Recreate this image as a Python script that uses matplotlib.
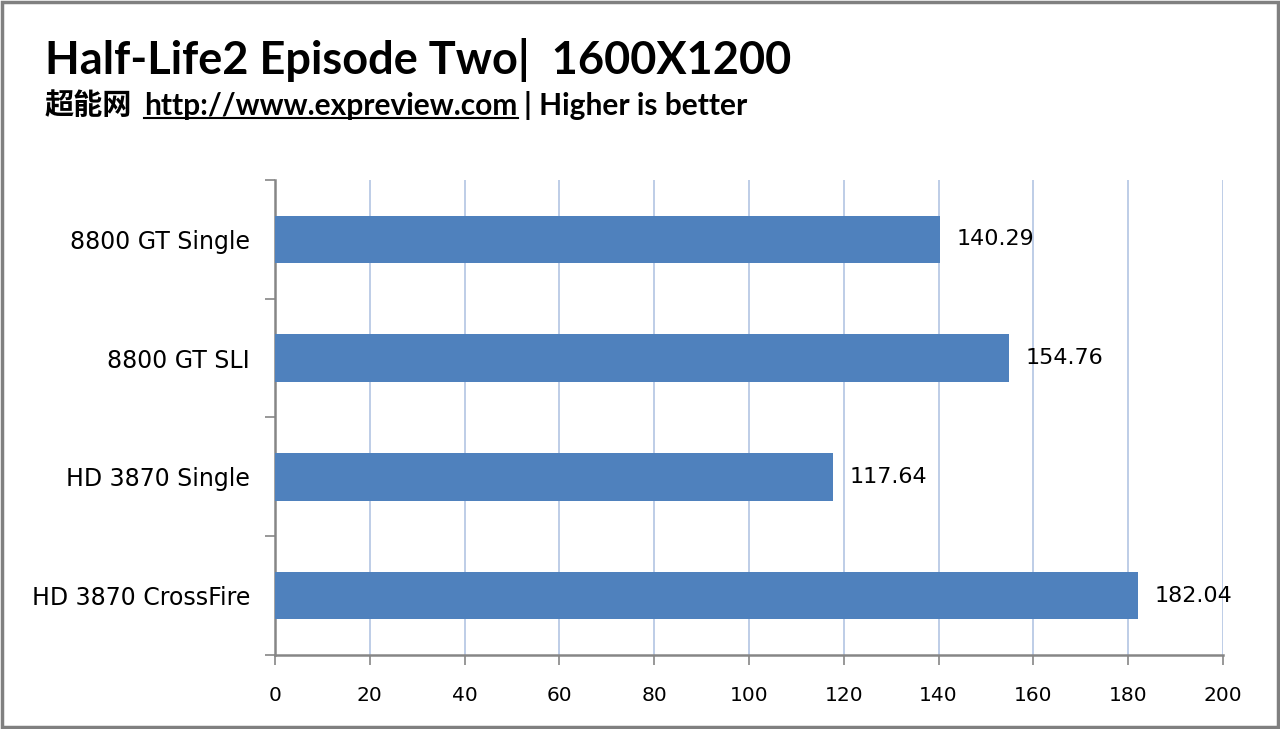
import matplotlib
matplotlib.use("Agg")
import matplotlib.pyplot as plt
from matplotlib.lines import Line2D
from matplotlib.patches import Rectangle
import numpy as np

# data
cards = ["8800 GT Single", "8800 GT SLI", "HD 3870 Single", "HD 3870 CrossFire"]
fps = [140.29, 154.76, 117.64, 182.04]
xticks = [0, 20, 40, 60, 80, 100, 120, 140, 160, 180, 200]

title = "Half-Life2 Episode Two|  1600X1200"
site = "超能网"
url = "http://www.expreview.com"
note = "| Higher is better"

bar_color = "#4f81bd"
grid_color = "#b9c9e5"
axis_color = "#868686"

fig = plt.figure(figsize=(12.8, 7.29), dpi=100)
ax = fig.add_axes([0.2148, 0.1015, 0.7407, 0.6516])

pos = np.arange(len(cards))
ax.barh(pos, fps, height=0.4, color=bar_color, zorder=3)
for p, v in zip(pos, fps):
    ax.annotate(f"{v:.2f}", (v, p), xytext=(12, 0), textcoords="offset points",
                va="center", ha="left", fontsize=16, family="DejaVu Sans")

ax.set_xlim(0, 200)
ax.set_ylim(len(cards) - 0.5, -0.5)
ax.set_xticks(xticks)
ax.set_xticklabels([str(t) for t in xticks], family="DejaVu Sans", fontsize=14.5)
ax.set_yticks(pos)
ax.set_yticklabels(cards, family="DejaVu Sans", fontsize=17)
ax.set_yticks(np.arange(len(cards) + 1) - 0.5, minor=True)
ax.tick_params(axis="y", which="major", length=0, pad=18)
ax.tick_params(axis="y", which="minor", length=7, width=1.2, color=axis_color, direction="out")
ax.tick_params(axis="x", length=7, width=1.2, color=axis_color, direction="out", pad=15)

ax.grid(axis="x", color=grid_color, linewidth=1.3, zorder=0)
for s in ["top", "right"]:
    ax.spines[s].set_visible(False)
for s in ["left", "bottom"]:
    ax.spines[s].set_color(axis_color)
    ax.spines[s].set_linewidth(1.8)
ax.spines["bottom"].set_zorder(4)

# titles
fig.text(45 / 1280, 1 - 74 / 729, title, fontsize=32.5, fontweight="bold",
         family="Lato", ha="left", va="baseline")
t1 = fig.text(45 / 1280, 1 - 114 / 729, site, fontsize=21, fontweight="bold",
              family=["Noto Sans CJK SC", "DejaVu Sans"], ha="left", va="baseline")
t2 = ax.annotate(url, xy=(1, 0), xycoords=t1, xytext=(12, 0), textcoords="offset pixels",
                 fontsize=21.5, fontweight="bold", family="Lato", ha="left", va="bottom",
                 annotation_clip=False)
t3 = ax.annotate(note, xy=(1, 0), xycoords=t2, xytext=(6, 0), textcoords="offset pixels",
                 fontsize=21.5, fontweight="bold", family="Lato", ha="left", va="bottom",
                 annotation_clip=False)

fig.canvas.draw()
bb = t2.get_window_extent()
uy = (1 - 118 / 729)
fig.add_artist(Line2D([bb.x0 / 1280, bb.x1 / 1280], [uy, uy], color="black", linewidth=1.5))

fig.add_artist(Rectangle((0.0015, 0.0025), 0.997, 0.995, transform=fig.transFigure,
                         fill=False, edgecolor="#808080", linewidth=2.5))

fig.savefig("out.png", dpi=100)
